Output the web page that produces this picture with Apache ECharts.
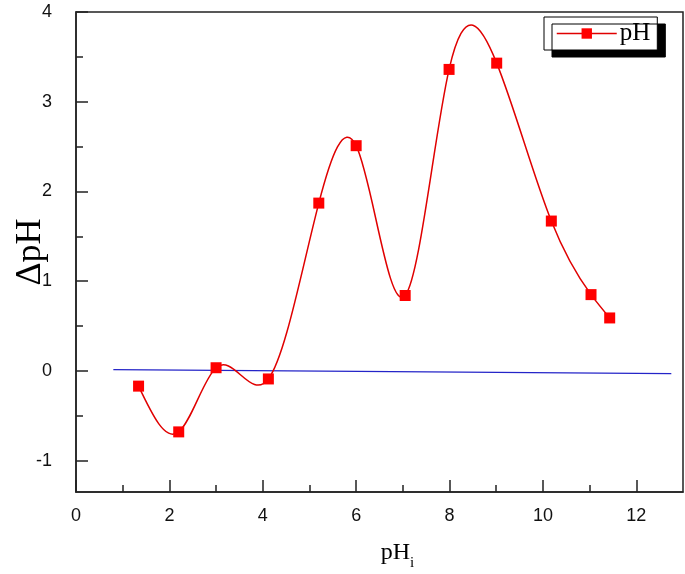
<!DOCTYPE html>
<html>
<head>
<meta charset="utf-8">
<script src="https://cdn.jsdelivr.net/npm/echarts@6/dist/echarts.min.js"></script>
<style>html,body{margin:0;padding:0;background:#fff}#c{width:685px;height:574px}</style>
</head>
<body>
<div id="c"></div>
<script>
var pHi = [1.34, 2.2, 3.0, 4.12, 5.2, 6.0, 7.05, 7.99, 9.01, 10.18, 11.03, 11.43];
var dpH = [-0.17, -0.68, 0.035, -0.09, 1.87, 2.51, 0.84, 3.36, 3.43, 1.67, 0.85, 0.59];
var baseX = [0.8, 12.75];
var baseY = [0.015, -0.03];
var xMajor = [0, 2, 4, 6, 8, 10, 12];
var xMinor = [1, 3, 5, 7, 9, 11];
var yMajor = [-1, 0, 1, 2, 3, 4];
var yMinor = [-0.5, 0.5, 1.5, 2.5, 3.5];

// Natural cubic spline through pixel points, drawn as Bezier segments
function splinePath(pts) {
  var n = pts.length;
  if (n < 2) return '';
  var h = [], i;
  for (i = 0; i < n - 1; i++) h.push(pts[i + 1][0] - pts[i][0]);
  var a = new Array(n).fill(0), b = new Array(n).fill(0), c = new Array(n).fill(0), d = new Array(n).fill(0);
  b[0] = 1; b[n - 1] = 1;
  for (i = 1; i < n - 1; i++) {
    a[i] = h[i - 1]; b[i] = 2 * (h[i - 1] + h[i]); c[i] = h[i];
    d[i] = 6 * ((pts[i + 1][1] - pts[i][1]) / h[i] - (pts[i][1] - pts[i - 1][1]) / h[i - 1]);
  }
  for (i = 1; i < n; i++) { var w = a[i] / b[i - 1]; b[i] -= w * c[i - 1]; d[i] -= w * d[i - 1]; }
  var M = new Array(n).fill(0);
  M[n - 1] = d[n - 1] / b[n - 1];
  for (i = n - 2; i >= 0; i--) M[i] = (d[i] - c[i] * M[i + 1]) / b[i];
  var path = 'M' + pts[0][0] + ' ' + pts[0][1];
  for (i = 0; i < n - 1; i++) {
    var hi = h[i], y0 = pts[i][1], y1 = pts[i + 1][1];
    var s = (y1 - y0) / hi;
    var m0 = s - hi * (2 * M[i] + M[i + 1]) / 6;
    var m1 = s + hi * (M[i] + 2 * M[i + 1]) / 6;
    path += ' C' + (pts[i][0] + hi / 3) + ' ' + (y0 + m0 * hi / 3) + ' ' +
      (pts[i + 1][0] - hi / 3) + ' ' + (y1 - m1 * hi / 3) + ' ' + pts[i + 1][0] + ' ' + y1;
  }
  return path;
}

var chart = echarts.init(document.getElementById('c'));
var axisCol = '#222';
var labelFont = {fontFamily: 'Liberation Sans', fontSize: 18, color: '#111'};
chart.setOption({
  animation: false,
  grid: {left: 76, top: 12, right: 2, bottom: 82, show: true, borderColor: axisCol, borderWidth: 1.5, containLabel: false, outerBoundsMode: 'none'},
  legend: {
    left: 544, top: 17, selectedMode: false,
    data: ['pH'],
    backgroundColor: '#fff', borderColor: '#000', borderWidth: 1,
    shadowColor: '#000', shadowBlur: 0, shadowOffsetX: 8, shadowOffsetY: 7,
    padding: [4, 7, 4, 12],
    itemWidth: 60, itemHeight: 13,
    lineStyle: {color: '#e00000', width: 1.5, opacity: 1},
    textStyle: {fontFamily: 'Liberation Serif', fontSize: 25, color: '#000', padding: [0, 0, 0, -2]}
  },
  xAxis: [{
    type: 'value', min: 0, max: 13, position: 'bottom',
    axisLine: {show: true, onZero: false, lineStyle: {color: axisCol, width: 1.5}},
    axisTick: {show: true, inside: true, length: 12, customValues: xMajor, lineStyle: {color: axisCol, width: 1.5}},
    axisLabel: Object.assign({customValues: xMajor, margin: 15}, labelFont),
    splitLine: {show: false},
    name: '{a|pH}{b|i}', nameLocation: 'middle', nameGap: 49, nameMoveOverlap: false,
    nameTextStyle: {padding: [0, 0, 0, 36], rich: {
      a: {fontFamily: 'Liberation Serif', fontSize: 24, color: '#000'},
      b: {fontFamily: 'Liberation Serif', fontSize: 15, color: '#000', verticalAlign: 'bottom', padding: [0, 0, -6, 0]}
    }}
  }, {
    type: 'value', min: 0, max: 13, position: 'bottom',
    axisLine: {show: false, onZero: false},
    axisTick: {show: true, inside: true, length: 7, customValues: xMinor, lineStyle: {color: axisCol, width: 1.5}},
    axisLabel: {show: false}, splitLine: {show: false}
  }],
  yAxis: [{
    type: 'value', min: -1.35, max: 4, position: 'left',
    axisLine: {show: true, onZero: false, lineStyle: {color: axisCol, width: 1.5}},
    axisTick: {show: true, inside: true, length: 12, customValues: yMajor, lineStyle: {color: axisCol, width: 1.5}},
    axisLabel: Object.assign({customValues: yMajor, margin: 24}, labelFont),
    splitLine: {show: false},
    name: 'ΔpH', nameLocation: 'middle', nameGap: 27, nameRotate: 90, nameMoveOverlap: false,
    nameTextStyle: {fontFamily: 'Liberation Serif', fontSize: 36, color: '#000'}
  }, {
    type: 'value', min: -1.35, max: 4, position: 'left',
    axisLine: {show: false, onZero: false},
    axisTick: {show: true, inside: true, length: 7, customValues: yMinor, lineStyle: {color: axisCol, width: 1.5}},
    axisLabel: {show: false}, splitLine: {show: false}
  }],
  series: [{
    name: 'baseline', type: 'line', xAxisIndex: 0, yAxisIndex: 0,
    data: baseX.map(function (x, i) { return [x, baseY[i]]; }),
    showSymbol: false, symbol: 'none',
    lineStyle: {color: '#2424c8', width: 1.3}, z: 1
  }, {
    name: 'pHcurve', type: 'custom', xAxisIndex: 0, yAxisIndex: 0,
    data: [[pHi[0], dpH[0]]],
    z: 2, silent: true,
    renderItem: function (params, api) {
      var pts = pHi.map(function (x, i) { return api.coord([x, dpH[i]]); });
      return {
        type: 'path',
        shape: {pathData: splinePath(pts)},
        style: {fill: 'none', stroke: '#e00000', lineWidth: 1.5}
      };
    }
  }, {
    name: 'pH', type: 'line', xAxisIndex: 0, yAxisIndex: 0,
    data: pHi.map(function (x, i) { return [x, dpH[i]]; }),
    symbol: 'rect', symbolSize: 11,
    itemStyle: {color: '#ff0000'},
    lineStyle: {color: '#e00000', width: 1.5, opacity: 0}, z: 3
  }]
});
</script>
</body>
</html>
